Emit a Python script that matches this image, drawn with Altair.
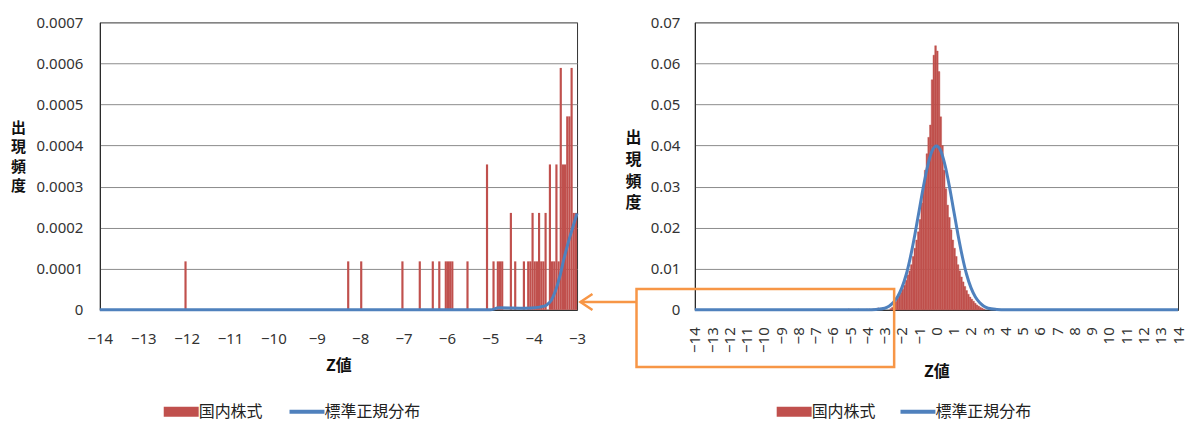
import altair as alt
import pandas as pd

# ---------------- data ----------------
# Left panel: tail of the histogram of 国内株式 (bar right edge z, relative frequency)
tail_z = [-12.0, -8.25, -7.95, -7.0, -6.6, -6.3, -6.15, -6.0, -5.95, -5.9, -5.85, -5.5,
          -5.05, -4.9, -4.8, -4.75, -4.7, -4.5, -4.4, -4.2,
          -4.1, -4.05, -4.0, -3.95, -3.9, -3.85, -3.8, -3.75, -3.7,
          -3.6, -3.55, -3.5, -3.45, -3.4, -3.35, -3.3, -3.25, -3.2, -3.15, -3.1, -3.05, -3.0]
tail_f = [0.000118, 0.000118, 0.000118, 0.000118, 0.000118, 0.000118, 0.000118, 0.000118,
          0.000118, 0.000118, 0.000118, 0.000118,
          0.000354, 0.000118, 0.000118, 0.000118, 0.000118, 0.000236, 0.000118, 0.000118,
          0.000118, 0.000118, 0.000236, 0.000118, 0.000118, 0.000236, 0.000118, 0.000118, 0.000236,
          0.000354, 0.000118, 0.000118, 0.000354, 0.000118, 0.000589, 0.000354, 0.000354,
          0.000471, 0.000471, 0.000589, 0.000236, 0.000236]

# Left panel: 標準正規分布 curve
lnorm_z = [-14.0, -5.0, -4.8, -4.2, -3.9, -3.8, -3.7, -3.6, -3.5, -3.4, -3.3, -3.2, -3.1, -3.0]
lnorm_f = [0.0, 0.0, 0.000005, 0.000004, 0.000006, 0.000008, 0.000012, 0.000022, 0.000045,
           0.00008, 0.000125, 0.000165, 0.0002, 0.000235]

# Right panel: histogram of 国内株式 (bin centres, width 0.1)
core_z = [-2.65, -2.55, -2.45, -2.35, -2.25, -2.15, -2.05, -1.95, -1.85, -1.75, -1.65, -1.55,
          -1.45, -1.35, -1.25, -1.15, -1.05, -0.95, -0.85, -0.75, -0.65, -0.55, -0.45, -0.35,
          -0.25, -0.15, -0.05, 0.05, 0.15, 0.25, 0.35, 0.45, 0.55, 0.65, 0.75, 0.85, 0.95,
          1.05, 1.15, 1.25, 1.35, 1.45, 1.55, 1.65, 1.75, 1.85, 1.95, 2.05, 2.15, 2.25, 2.35,
          2.45, 2.55, 2.65, 2.75]
core_f = [0.0003, 0.0006, 0.0012, 0.0020, 0.0028, 0.0035, 0.0042, 0.0050, 0.0060, 0.0072,
          0.0085, 0.0095, 0.0110, 0.0130, 0.0150, 0.0170, 0.0190, 0.0220, 0.0260, 0.0300,
          0.0340, 0.0380, 0.0420, 0.0450, 0.0560, 0.0620, 0.0643, 0.0630, 0.0580, 0.0470,
          0.0400, 0.0340, 0.0295, 0.0255, 0.0225, 0.0195, 0.0170, 0.0150, 0.0130, 0.0110,
          0.0095, 0.0080, 0.0068, 0.0057, 0.0047, 0.0038, 0.0031, 0.0026, 0.0021, 0.0016,
          0.0012, 0.0009, 0.0006, 0.0004, 0.0002]

# Right panel: 標準正規分布 curve
rnorm_z = [-14.0, -4.0, -3.5, -3.0, -2.75, -2.5, -2.25, -2.0, -1.75, -1.5, -1.25, -1.0, -0.75,
           -0.5, -0.25, 0.0, 0.25, 0.5, 0.75, 1.0, 1.25, 1.5, 1.75, 2.0, 2.25, 2.5, 2.75, 3.0,
           3.5, 4.0, 14.0]
rnorm_f = [0.0, 0.0, 0.0001, 0.0004, 0.0009, 0.0018, 0.0032, 0.0054, 0.0086, 0.0130, 0.0183,
           0.0242, 0.0301, 0.0352, 0.0387, 0.0399, 0.0387, 0.0352, 0.0301, 0.0242, 0.0183,
           0.0130, 0.0086, 0.0054, 0.0032, 0.0018, 0.0009, 0.0004, 0.0001, 0.0, 0.0]

# Orange highlight box and arrow (in the right panel's data units)
box_z = [-17.38, -2.45]
box_f = [0.0051, -0.0139]
arrow_z = [-17.38, -20.62]
arrow_f = [0.0019]
head_z = [-20.28]

bar_name = "国内株式"
norm_name = "標準正規分布"
left_x_ticks = list(range(-14, -2))
right_x_ticks = list(range(-14, 15))
left_y_ticks = [0, 0.0001, 0.0002, 0.0003, 0.0004, 0.0005, 0.0006, 0.0007]
right_y_ticks = [0, 0.01, 0.02, 0.03, 0.04, 0.05, 0.06, 0.07]

# ---------------- styling ----------------
JP = "Noto Sans CJK JP"
NUM = "Noto Sans"
RED = "#c0504d"
BLUE = "#4f81bd"
ORANGE = "#f79646"

tail_df = pd.DataFrame({"z": tail_z, "f": tail_f, "s": bar_name})
core_df = pd.DataFrame({"z": core_z, "f": core_f, "s": bar_name})
lnorm_df = pd.DataFrame({"z": lnorm_z, "f": lnorm_f, "s": norm_name})
rnorm_df = pd.DataFrame({"z": rnorm_z, "f": rnorm_f, "s": norm_name})
box_df = pd.DataFrame({"z0": [box_z[0]], "z1": [box_z[1]], "f0": [box_f[0]], "f1": [box_f[1]]})
arrow_df = pd.DataFrame({"z0": [arrow_z[0]], "z1": [arrow_z[1]], "f": arrow_f})
head_df = pd.DataFrame({"z": head_z, "f": arrow_f})

ytitle = ["出", "現", "頻", "度"]
LEG_Y = 382


def bar_legend(x):
    return alt.Legend(title=None, orient="none", legendX=x, legendY=LEG_Y, padding=0,
                      symbolType="M-1,-1H6V1H-1Z", symbolSize=100, symbolStrokeWidth=0,
                      clipHeight=16, labelOffset=22, labelFontSize=16, labelFont=JP,
                      labelColor="#222")


def line_legend(x):
    return alt.Legend(title=None, orient="none", legendX=x, legendY=LEG_Y, padding=0,
                      symbolType="M-1,0H6", symbolSize=100, symbolStrokeWidth=4,
                      clipHeight=16, labelOffset=22, labelFontSize=16, labelFont=JP,
                      labelColor="#222")


# ---------------- left panel ----------------
xL = alt.Scale(domain=[-14, -3], nice=False, zero=False)
yL = alt.Scale(domain=[0, 0.0007], nice=False, zero=False)
axXL = alt.Axis(title="Z値", values=left_x_ticks, ticks=False, labelPadding=22, labelFontSize=15,
                labelFlush=False, grid=False, titleFontSize=16, titleFontWeight="bold",
                titleY=48, titleBaseline="top")
axYL = alt.Axis(title=ytitle, titleAngle=0, titleX=-82, titleY=105, titleAlign="center",
                titleBaseline="middle", titleLineHeight=19.5, titleFontSize=15,
                titleFontWeight="bold", values=left_y_ticks,
                labelExpr="datum.value == 0 ? '0' : format(datum.value, '.4f')",
                ticks=False, labelPadding=17, labelFontSize=15, grid=True)

left_bars = alt.Chart(tail_df).transform_calculate(
    x1="datum.z - 0.05"
).mark_bar(color=RED).encode(
    x=alt.X("x1:Q", scale=xL, axis=axXL),
    x2="z:Q",
    y=alt.Y("f:Q", scale=yL, axis=axYL),
    y2=alt.datum(0),
    fill=alt.Fill("s:N", scale=alt.Scale(domain=[bar_name], range=[RED]), legend=bar_legend(61)),
)
left_line = alt.Chart(lnorm_df).mark_line(strokeWidth=3, interpolate="monotone").encode(
    x=alt.X("z:Q", scale=xL, axis=axXL),
    y=alt.Y("f:Q", scale=yL, axis=axYL),
    stroke=alt.Stroke("s:N", scale=alt.Scale(domain=[norm_name], range=[BLUE]), legend=line_legend(187)),
)
left = alt.layer(left_bars, left_line).properties(width=478, height=288)

# ---------------- right panel ----------------
xR = alt.Scale(domain=[-14, 14], nice=False, zero=False)
yR = alt.Scale(domain=[0, 0.07], nice=False, zero=False)
axXR = alt.Axis(title="Z値", values=right_x_ticks, ticks=False, labelAngle=270, labelPadding=17,
                labelFontSize=15, labelFlush=False, labelOverlap=False, grid=False,
                titleFontSize=16, titleFontWeight="bold", titleY=54, titleBaseline="top")
axYR = alt.Axis(title=ytitle, titleAngle=0, titleX=-62, titleY=115, titleAlign="center",
                titleBaseline="middle", titleLineHeight=22, titleFontSize=16,
                titleFontWeight="bold", values=right_y_ticks,
                labelExpr="datum.value == 0 ? '0' : format(datum.value, '.2f')",
                ticks=False, labelPadding=15, labelFontSize=15, grid=True)

right_core = alt.Chart(core_df).transform_calculate(
    x1="datum.z - 0.05", x2="datum.z + 0.05"
).mark_bar(stroke=RED, strokeWidth=0.4).encode(
    x=alt.X("x1:Q", scale=xR, axis=axXR),
    x2="x2:Q",
    y=alt.Y("f:Q", scale=yR, axis=axYR),
    y2=alt.datum(0),
    fill=alt.Fill("s:N", scale=alt.Scale(domain=[bar_name], range=[RED]), legend=bar_legend(79)),
)
right_tail = alt.Chart(tail_df).transform_calculate(
    x1="datum.z - 0.05"
).mark_bar(color=RED).encode(
    x=alt.X("x1:Q", scale=xR, axis=axXR),
    x2="z:Q",
    y=alt.Y("f:Q", scale=yR, axis=axYR),
    y2=alt.datum(0),
)
right_line = alt.Chart(rnorm_df).mark_line(strokeWidth=3, interpolate="monotone").encode(
    x=alt.X("z:Q", scale=xR, axis=axXR),
    y=alt.Y("f:Q", scale=yR, axis=axYR),
    stroke=alt.Stroke("s:N", scale=alt.Scale(domain=[norm_name], range=[BLUE]), legend=line_legend(203)),
)
box = alt.Chart(box_df).mark_rect(fill="transparent", stroke=ORANGE, strokeWidth=2.5).encode(
    x=alt.X("z0:Q", scale=xR, axis=axXR), x2="z1:Q",
    y=alt.Y("f0:Q", scale=yR, axis=axYR), y2="f1:Q",
)
arrow = alt.Chart(arrow_df).mark_rule(color=ORANGE, strokeWidth=2.5).encode(
    x=alt.X("z0:Q", scale=xR, axis=axXR), x2="z1:Q",
    y=alt.Y("f:Q", scale=yR, axis=axYR),
)
head = alt.Chart(head_df).mark_point(shape="M0.75,-1L-0.75,0L0.75,1", size=256, filled=False,
                                     color=ORANGE, strokeWidth=2.5, opacity=1).encode(
    x=alt.X("z:Q", scale=xR, axis=axXR),
    y=alt.Y("f:Q", scale=yR, axis=axYR),
)
right = alt.layer(right_core, right_tail, right_line, box, arrow, head).properties(width=484, height=288)

chart = alt.hconcat(left, right, spacing=118, bounds="flush").resolve_scale(
    fill="independent", stroke="independent"
).resolve_legend(
    fill="independent", stroke="independent"
).properties(
    padding={"left": 1, "top": 6, "right": 0, "bottom": 0}
).configure_axis(
    labelFont=NUM, titleFont=JP, labelColor="#333", titleColor="#111",
    domainColor="#222", gridColor="#8c8c8c", gridWidth=1
).configure_view(stroke="#333", strokeWidth=1)

chart.save("out.html", embed_options={"renderer": "svg", "actions": False})
